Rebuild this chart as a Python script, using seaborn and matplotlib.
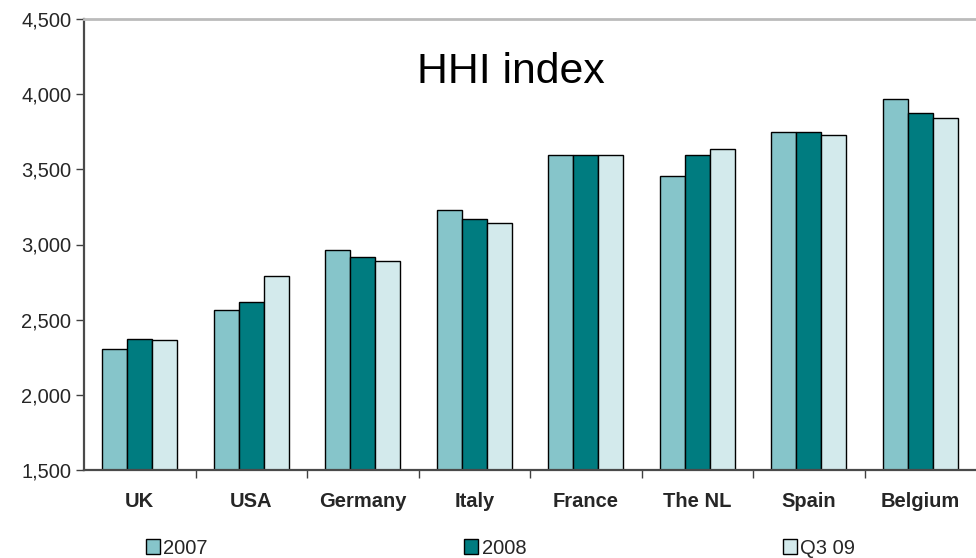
import matplotlib
matplotlib.use("Agg")
import matplotlib.pyplot as plt
import seaborn as sns
import pandas as pd
from matplotlib.ticker import FuncFormatter, FixedLocator

countries = ["UK", "USA", "Germany", "Italy", "France", "The NL", "Spain", "Belgium"]
periods = ["2007", "2008", "Q3 09"]
hhi_2007 = [2307, 2562, 2962, 3228, 3595, 3454, 3748, 3966]
hhi_2008 = [2369, 2615, 2915, 3168, 3595, 3598, 3748, 3875]
hhi_q309 = [2363, 2788, 2888, 3145, 3595, 3633, 3726, 3844]
colors = ["#86C5CA", "#007C80", "#D3EAEC"]

rows = []
for period, vals in zip(periods, [hhi_2007, hhi_2008, hhi_q309]):
    for c, v in zip(countries, vals):
        rows.append({"country": c, "period": period, "hhi": v})
df = pd.DataFrame(rows)

sns.set_style("white")
plt.rcParams["font.family"] = ["Liberation Sans", "DejaVu Sans"]

fig = plt.figure(figsize=(9.76, 5.58), dpi=100)
ax = fig.add_axes([84 / 976, 1 - 470 / 558, 1 - 84 / 976, (470 - 19) / 558])

sns.barplot(data=df, x="country", y="hhi", hue="period", order=countries,
            hue_order=periods, palette=colors, width=0.67, gap=0,
            edgecolor="black", linewidth=1.0, saturation=1, ax=ax)

ax.set_ylim(1500, 4500)
ax.set_xlim(-0.5, 7.5)
ax.set_yticks(range(1500, 4501, 500))
ax.yaxis.set_major_formatter(FuncFormatter(lambda v, p: f"{int(v):,}"))
ax.set_xlabel("")
ax.set_ylabel("")

ax.tick_params(axis="y", which="major", direction="out", length=6, width=1,
               color="#404040", labelsize=14.5, pad=3, left=True)
ax.tick_params(axis="x", which="major", length=0, labelsize=14.5, pad=16)
for lbl in ax.get_xticklabels():
    lbl.set_fontweight("bold")
ax.xaxis.set_minor_locator(FixedLocator([i + 0.5 for i in range(7)]))
ax.tick_params(axis="x", which="minor", direction="out", length=6, width=1,
               color="#404040", bottom=True)

for side in ["left", "bottom"]:
    ax.spines[side].set_color("#4A4A4A")
    ax.spines[side].set_linewidth(1.6)
ax.spines["top"].set_color("#BBBBBB")
ax.spines["top"].set_linewidth(2)
ax.spines["right"].set_visible(False)

ax.text(0.478, 0.882, "HHI index", transform=ax.transAxes, ha="center",
        va="center", fontsize=30.8, color="black")

handles, labels = ax.get_legend_handles_labels()
ax.get_legend().remove()
fig.legend(handles, labels, loc="center left", bbox_to_anchor=(146 / 976, 1 - 548 / 558),
           ncol=3, frameon=False, fontsize=14.5, handlelength=0.7, handleheight=0.8,
           handletextpad=0.15, columnspacing=12.75, borderaxespad=0, borderpad=0)

fig.savefig("out.png", dpi=100)
